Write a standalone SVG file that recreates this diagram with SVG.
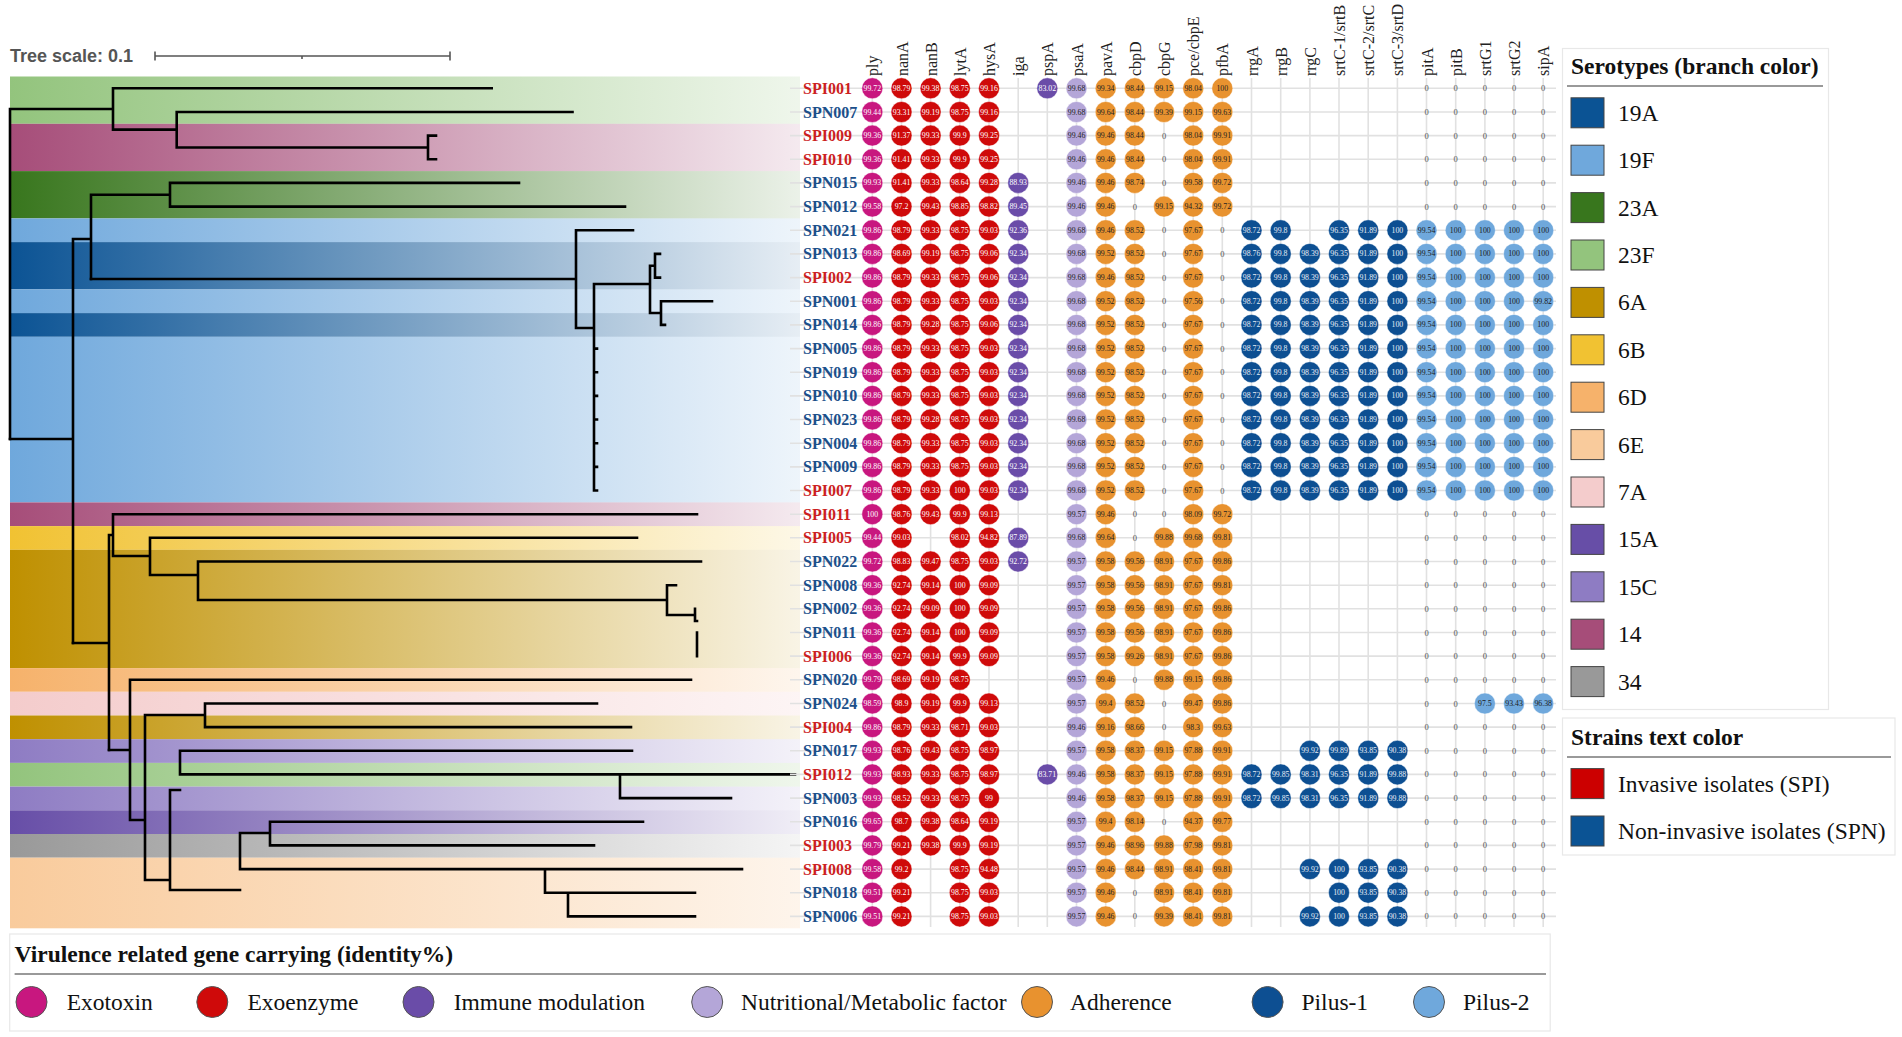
<svg xmlns="http://www.w3.org/2000/svg" width="1902" height="1037" viewBox="0 0 1902 1037">
<style>
.ttl{font-family:"Liberation Serif",serif;font-weight:bold;font-size:23.5px;fill:#111}
.lg{font-family:"Liberation Serif",serif;font-size:23.5px;fill:#111}
.hdr text{font-family:"Liberation Serif",serif;font-size:16px;fill:#222}
.lab text{font-family:"Liberation Serif",serif;font-weight:bold;font-size:16px}
.spi{fill:#cc1f1f}.spn{fill:#1b4f8a}
.grid line{stroke:#e1e1e1;stroke-width:1.6}
.cells text{font-family:"Liberation Serif",serif;font-size:7.8px;text-anchor:middle;dominant-baseline:central}
.cells circle{stroke:#ffffff;stroke-opacity:.55;stroke-width:.8}
.ex circle{fill:#c8177f}.ex text{fill:#fff}
.en circle{fill:#cf0a0a}.en text{fill:#fff}
.im circle{fill:#6a4ca8}.im text{fill:#fff}
.nu circle{fill:#b4a6d8}.nu text{fill:#222}
.ad circle{fill:#e8922f}.ad text{fill:#222}
.p1 circle{fill:#0d4f92}.p1 text{fill:#e6edf5}
.p2 circle{fill:#6fa8dc}.p2 text{fill:#1a1a1a}
.cells text.z{fill:#555;font-size:8.5px}
.tree path{fill:none;stroke:#000;stroke-width:2.6;stroke-linecap:square}
.sw{stroke:#444;stroke-width:1}
</style>
<defs>
<linearGradient id="g19A"><stop offset="0" stop-color="#0b5394"/><stop offset="1" stop-color="#0b5394" stop-opacity="0.1"/></linearGradient>
<linearGradient id="g19F"><stop offset="0" stop-color="#6fa8dc"/><stop offset="1" stop-color="#6fa8dc" stop-opacity="0.12"/></linearGradient>
<linearGradient id="g23A"><stop offset="0" stop-color="#38761d"/><stop offset="1" stop-color="#38761d" stop-opacity="0.1"/></linearGradient>
<linearGradient id="g23F"><stop offset="0" stop-color="#93c47d"/><stop offset="1" stop-color="#93c47d" stop-opacity="0.15"/></linearGradient>
<linearGradient id="g6A"><stop offset="0" stop-color="#bf9000"/><stop offset="1" stop-color="#bf9000" stop-opacity="0.1"/></linearGradient>
<linearGradient id="g6B"><stop offset="0" stop-color="#f1c232"/><stop offset="1" stop-color="#f1c232" stop-opacity="0.12"/></linearGradient>
<linearGradient id="g6D"><stop offset="0" stop-color="#f6b26b"/><stop offset="1" stop-color="#f6b26b" stop-opacity="0.12"/></linearGradient>
<linearGradient id="g6E"><stop offset="0" stop-color="#f9cb9c"/><stop offset="1" stop-color="#f9cb9c" stop-opacity="0.2"/></linearGradient>
<linearGradient id="g7A"><stop offset="0" stop-color="#f4cccc"/><stop offset="1" stop-color="#f4cccc" stop-opacity="0.2"/></linearGradient>
<linearGradient id="g15A"><stop offset="0" stop-color="#674ea7"/><stop offset="1" stop-color="#674ea7" stop-opacity="0.1"/></linearGradient>
<linearGradient id="g15C"><stop offset="0" stop-color="#8e7cc3"/><stop offset="1" stop-color="#8e7cc3" stop-opacity="0.1"/></linearGradient>
<linearGradient id="g14"><stop offset="0" stop-color="#a64d79"/><stop offset="1" stop-color="#a64d79" stop-opacity="0.12"/></linearGradient>
<linearGradient id="g34"><stop offset="0" stop-color="#999999"/><stop offset="1" stop-color="#999999" stop-opacity="0.1"/></linearGradient>
</defs>
<rect width="1902" height="1037" fill="#fff"/>

<g id="bands">
<rect x="10" y="76.5" width="790" height="47.3" fill="url(#g23F)"/>
<rect x="10" y="123.8" width="790" height="47.3" fill="url(#g14)"/>
<rect x="10" y="171.1" width="790" height="47.3" fill="url(#g23A)"/>
<rect x="10" y="218.4" width="790" height="23.7" fill="url(#g19F)"/>
<rect x="10" y="242.1" width="790" height="47.3" fill="url(#g19A)"/>
<rect x="10" y="289.4" width="790" height="23.7" fill="url(#g19F)"/>
<rect x="10" y="313.1" width="790" height="23.7" fill="url(#g19A)"/>
<rect x="10" y="336.8" width="790" height="165.6" fill="url(#g19F)"/>
<rect x="10" y="502.4" width="790" height="23.7" fill="url(#g14)"/>
<rect x="10" y="526.1" width="790" height="23.7" fill="url(#g6B)"/>
<rect x="10" y="549.8" width="790" height="118.3" fill="url(#g6A)"/>
<rect x="10" y="668.1" width="790" height="23.7" fill="url(#g6D)"/>
<rect x="10" y="691.8" width="790" height="23.7" fill="url(#g7A)"/>
<rect x="10" y="715.5" width="790" height="23.7" fill="url(#g6A)"/>
<rect x="10" y="739.2" width="790" height="23.7" fill="url(#g15C)"/>
<rect x="10" y="762.9" width="790" height="23.7" fill="url(#g23F)"/>
<rect x="10" y="786.6" width="790" height="23.7" fill="url(#g15C)"/>
<rect x="10" y="810.3" width="790" height="23.7" fill="url(#g15A)"/>
<rect x="10" y="834.0" width="790" height="23.7" fill="url(#g34)"/>
<rect x="10" y="857.7" width="790" height="70.6" fill="url(#g6E)"/>
</g>

<g id="scale">
<text x="10" y="62" font-family="Liberation Sans, sans-serif" font-weight="bold" font-size="18" fill="#555">Tree scale: 0.1</text>
<path d="M155,56H450M155,51.5V60.5M450,51.5V60.5M302,56V59" stroke="#555" stroke-width="1.6" fill="none"/>
</g>

<g id="connectors" class="tree">
<path d="M10,109V439M10,109H113M113,88.3V129.6M113,88.3H491.7M113,129.6H176.7M176.7,112V147.5M176.7,112H572.5M176.7,147.5H428M428,135.6V159.3M428,135.6H436M428,159.3H436"/>
<path d="M10,439H73M73,239V643M73,239H91M91,194.8V279M91,194.8H170M170,182.9V206.6M170,182.9H519M170,206.6H625"/>
<path d="M91,279H576M576,230.3V328M576,230.3H633M576,328H594M594,284V420M594,284H650M650,265.7V313M650,265.7H655M655,253.9V277.6M655,253.9H660M655,277.6H660M650,313H661M661,301.2V324.9M661,301.2H712M661,324.9H665M594,420H594M594,348.6V490.5M594,348.6H597M594,372.2H597M594,395.9H597M594,419.5H597M594,443.2H597M594,466.9H597M594,490.5H597"/>
<path d="M73,643H109M109,535V750M109,535H113M113,514.2V556M113,514.2H697M113,556H150M150,537.8V575M150,537.8H637M150,575H198M198,561.5V600M198,561.5H701M198,600H667M667,585.2V615M667,585.2H676M667,615H695M695,608.8V621M695,608.8H695M695,621H697M697,632.5V656.1M697,632.5H697M697,656.1H697"/>
<path d="M109,750H130M130,679.8V820M130,679.8H691M130,820H145M145,715V880M145,715H205M205,703.5V727.1M205,703.5H597M205,727.1H631M145,880H170M170,790V890M170,790H180M180,750.8V774.4M180,750.8H632M180,774.4H620M620,774.4V798.1M620,774.4H795M620,798.1H731M170,890H240M240,833V869.1M240,833H270M270,821.8V845.4M270,821.8H643M270,845.4H594M240,869.1H545M545,869.1V892.7M545,869.1H742M545,892.7H568M568,892.7V916.4M568,892.7H695M568,916.4H695"/>
</g>

<g id="grid" class="grid">
<line x1="790" y1="88.3" x2="1556" y2="88.3"/><line x1="790" y1="112" x2="1556" y2="112"/><line x1="790" y1="135.6" x2="1556" y2="135.6"/><line x1="790" y1="159.3" x2="1556" y2="159.3"/><line x1="790" y1="182.9" x2="1556" y2="182.9"/><line x1="790" y1="206.6" x2="1556" y2="206.6"/><line x1="790" y1="230.3" x2="1556" y2="230.3"/><line x1="790" y1="253.9" x2="1556" y2="253.9"/><line x1="790" y1="277.6" x2="1556" y2="277.6"/><line x1="790" y1="301.2" x2="1556" y2="301.2"/><line x1="790" y1="324.9" x2="1556" y2="324.9"/><line x1="790" y1="348.6" x2="1556" y2="348.6"/><line x1="790" y1="372.2" x2="1556" y2="372.2"/><line x1="790" y1="395.9" x2="1556" y2="395.9"/><line x1="790" y1="419.5" x2="1556" y2="419.5"/><line x1="790" y1="443.2" x2="1556" y2="443.2"/><line x1="790" y1="466.9" x2="1556" y2="466.9"/><line x1="790" y1="490.5" x2="1556" y2="490.5"/><line x1="790" y1="514.2" x2="1556" y2="514.2"/><line x1="790" y1="537.8" x2="1556" y2="537.8"/><line x1="790" y1="561.5" x2="1556" y2="561.5"/><line x1="790" y1="585.2" x2="1556" y2="585.2"/><line x1="790" y1="608.8" x2="1556" y2="608.8"/><line x1="790" y1="632.5" x2="1556" y2="632.5"/><line x1="790" y1="656.1" x2="1556" y2="656.1"/><line x1="790" y1="679.8" x2="1556" y2="679.8"/><line x1="790" y1="703.5" x2="1556" y2="703.5"/><line x1="790" y1="727.1" x2="1556" y2="727.1"/><line x1="790" y1="750.8" x2="1556" y2="750.8"/><line x1="790" y1="774.4" x2="1556" y2="774.4"/><line x1="790" y1="798.1" x2="1556" y2="798.1"/><line x1="790" y1="821.8" x2="1556" y2="821.8"/><line x1="790" y1="845.4" x2="1556" y2="845.4"/><line x1="790" y1="869.1" x2="1556" y2="869.1"/><line x1="790" y1="892.7" x2="1556" y2="892.7"/><line x1="790" y1="916.4" x2="1556" y2="916.4"/>
<line x1="872.3" y1="78" x2="872.3" y2="927"/><line x1="901.5" y1="78" x2="901.5" y2="927"/><line x1="930.6" y1="78" x2="930.6" y2="927"/><line x1="959.8" y1="78" x2="959.8" y2="927"/><line x1="989" y1="78" x2="989" y2="927"/><line x1="1018.2" y1="78" x2="1018.2" y2="927"/><line x1="1047.3" y1="78" x2="1047.3" y2="927"/><line x1="1076.5" y1="78" x2="1076.5" y2="927"/><line x1="1105.7" y1="78" x2="1105.7" y2="927"/><line x1="1134.8" y1="78" x2="1134.8" y2="927"/><line x1="1164" y1="78" x2="1164" y2="927"/><line x1="1193.2" y1="78" x2="1193.2" y2="927"/><line x1="1222.3" y1="78" x2="1222.3" y2="927"/><line x1="1251.5" y1="78" x2="1251.5" y2="927"/><line x1="1280.7" y1="78" x2="1280.7" y2="927"/><line x1="1309.9" y1="78" x2="1309.9" y2="927"/><line x1="1339" y1="78" x2="1339" y2="927"/><line x1="1368.2" y1="78" x2="1368.2" y2="927"/><line x1="1397.4" y1="78" x2="1397.4" y2="927"/><line x1="1426.5" y1="78" x2="1426.5" y2="927"/><line x1="1455.7" y1="78" x2="1455.7" y2="927"/><line x1="1484.9" y1="78" x2="1484.9" y2="927"/><line x1="1514" y1="78" x2="1514" y2="927"/><line x1="1543.2" y1="78" x2="1543.2" y2="927"/>
</g>

<g id="headers" class="hdr">
<text transform="translate(878.3,76) rotate(-90)">ply</text>
<text transform="translate(907.5,76) rotate(-90)">nanA</text>
<text transform="translate(936.6,76) rotate(-90)">nanB</text>
<text transform="translate(965.8,76) rotate(-90)">lytA</text>
<text transform="translate(995,76) rotate(-90)">hysA</text>
<text transform="translate(1024.2,76) rotate(-90)">iga</text>
<text transform="translate(1053.3,76) rotate(-90)">pspA</text>
<text transform="translate(1082.5,76) rotate(-90)">psaA</text>
<text transform="translate(1111.7,76) rotate(-90)">pavA</text>
<text transform="translate(1140.8,76) rotate(-90)">cbpD</text>
<text transform="translate(1170,76) rotate(-90)">cbpG</text>
<text transform="translate(1199.2,76) rotate(-90)">pce/cbpE</text>
<text transform="translate(1228.3,76) rotate(-90)">pfbA</text>
<text transform="translate(1257.5,76) rotate(-90)">rrgA</text>
<text transform="translate(1286.7,76) rotate(-90)">rrgB</text>
<text transform="translate(1315.9,76) rotate(-90)">rrgC</text>
<text transform="translate(1345,76) rotate(-90)">srtC-1/srtB</text>
<text transform="translate(1374.2,76) rotate(-90)">srtC-2/srtC</text>
<text transform="translate(1403.4,76) rotate(-90)">srtC-3/srtD</text>
<text transform="translate(1432.5,76) rotate(-90)">pitA</text>
<text transform="translate(1461.7,76) rotate(-90)">pitB</text>
<text transform="translate(1490.9,76) rotate(-90)">srtG1</text>
<text transform="translate(1520,76) rotate(-90)">srtG2</text>
<text transform="translate(1549.2,76) rotate(-90)">sipA</text>
</g>

<g id="strains" class="lab">
<text x="803" y="93.8" class="spi">SPI001</text>
<text x="803" y="117.5" class="spn">SPN007</text>
<text x="803" y="141.1" class="spi">SPI009</text>
<text x="803" y="164.8" class="spi">SPI010</text>
<text x="803" y="188.4" class="spn">SPN015</text>
<text x="803" y="212.1" class="spn">SPN012</text>
<text x="803" y="235.8" class="spn">SPN021</text>
<text x="803" y="259.4" class="spn">SPN013</text>
<text x="803" y="283.1" class="spi">SPI002</text>
<text x="803" y="306.7" class="spn">SPN001</text>
<text x="803" y="330.4" class="spn">SPN014</text>
<text x="803" y="354.1" class="spn">SPN005</text>
<text x="803" y="377.7" class="spn">SPN019</text>
<text x="803" y="401.4" class="spn">SPN010</text>
<text x="803" y="425" class="spn">SPN023</text>
<text x="803" y="448.7" class="spn">SPN004</text>
<text x="803" y="472.4" class="spn">SPN009</text>
<text x="803" y="496" class="spi">SPI007</text>
<text x="803" y="519.7" class="spi">SPI011</text>
<text x="803" y="543.3" class="spi">SPI005</text>
<text x="803" y="567" class="spn">SPN022</text>
<text x="803" y="590.7" class="spn">SPN008</text>
<text x="803" y="614.3" class="spn">SPN002</text>
<text x="803" y="638" class="spn">SPN011</text>
<text x="803" y="661.6" class="spi">SPI006</text>
<text x="803" y="685.3" class="spn">SPN020</text>
<text x="803" y="709" class="spn">SPN024</text>
<text x="803" y="732.6" class="spi">SPI004</text>
<text x="803" y="756.3" class="spn">SPN017</text>
<text x="803" y="779.9" class="spi">SPI012</text>
<text x="803" y="803.6" class="spn">SPN003</text>
<text x="803" y="827.3" class="spn">SPN016</text>
<text x="803" y="850.9" class="spi">SPI003</text>
<text x="803" y="874.6" class="spi">SPI008</text>
<text x="803" y="898.2" class="spn">SPN018</text>
<text x="803" y="921.9" class="spn">SPN006</text>
</g>

<g id="cells" class="cells">
<g class="ex" transform="translate(872.3,0)">
<circle cy="88.3" r="10.5"/><text y="88.3">99.72</text><circle cy="112" r="10.5"/><text y="112">99.44</text><circle cy="135.6" r="10.5"/><text y="135.6">99.36</text><circle cy="159.3" r="10.5"/><text y="159.3">99.36</text><circle cy="182.9" r="10.5"/><text y="182.9">99.93</text><circle cy="206.6" r="10.5"/><text y="206.6">99.58</text><circle cy="230.3" r="10.5"/><text y="230.3">99.86</text><circle cy="253.9" r="10.5"/><text y="253.9">99.86</text><circle cy="277.6" r="10.5"/><text y="277.6">99.86</text><circle cy="301.2" r="10.5"/><text y="301.2">99.86</text><circle cy="324.9" r="10.5"/><text y="324.9">99.86</text><circle cy="348.6" r="10.5"/><text y="348.6">99.86</text><circle cy="372.2" r="10.5"/><text y="372.2">99.86</text><circle cy="395.9" r="10.5"/><text y="395.9">99.86</text><circle cy="419.5" r="10.5"/><text y="419.5">99.86</text><circle cy="443.2" r="10.5"/><text y="443.2">99.86</text><circle cy="466.9" r="10.5"/><text y="466.9">99.86</text><circle cy="490.5" r="10.5"/><text y="490.5">99.86</text><circle cy="514.2" r="10.5"/><text y="514.2">100</text><circle cy="537.8" r="10.5"/><text y="537.8">99.44</text><circle cy="561.5" r="10.5"/><text y="561.5">99.72</text><circle cy="585.2" r="10.5"/><text y="585.2">99.36</text><circle cy="608.8" r="10.5"/><text y="608.8">99.36</text><circle cy="632.5" r="10.5"/><text y="632.5">99.36</text><circle cy="656.1" r="10.5"/><text y="656.1">99.36</text><circle cy="679.8" r="10.5"/><text y="679.8">99.79</text><circle cy="703.5" r="10.5"/><text y="703.5">98.59</text><circle cy="727.1" r="10.5"/><text y="727.1">99.86</text><circle cy="750.8" r="10.5"/><text y="750.8">99.93</text><circle cy="774.4" r="10.5"/><text y="774.4">99.93</text><circle cy="798.1" r="10.5"/><text y="798.1">99.93</text><circle cy="821.8" r="10.5"/><text y="821.8">99.65</text><circle cy="845.4" r="10.5"/><text y="845.4">99.79</text><circle cy="869.1" r="10.5"/><text y="869.1">99.58</text><circle cy="892.7" r="10.5"/><text y="892.7">99.51</text><circle cy="916.4" r="10.5"/><text y="916.4">99.51</text>
</g>
<g class="en" transform="translate(901.5,0)">
<circle cy="88.3" r="10.5"/><text y="88.3">98.79</text><circle cy="112" r="10.5"/><text y="112">93.31</text><circle cy="135.6" r="10.5"/><text y="135.6">91.37</text><circle cy="159.3" r="10.5"/><text y="159.3">91.41</text><circle cy="182.9" r="10.5"/><text y="182.9">91.41</text><circle cy="206.6" r="10.5"/><text y="206.6">97.2</text><circle cy="230.3" r="10.5"/><text y="230.3">98.79</text><circle cy="253.9" r="10.5"/><text y="253.9">98.69</text><circle cy="277.6" r="10.5"/><text y="277.6">98.79</text><circle cy="301.2" r="10.5"/><text y="301.2">98.79</text><circle cy="324.9" r="10.5"/><text y="324.9">98.79</text><circle cy="348.6" r="10.5"/><text y="348.6">98.79</text><circle cy="372.2" r="10.5"/><text y="372.2">98.79</text><circle cy="395.9" r="10.5"/><text y="395.9">98.79</text><circle cy="419.5" r="10.5"/><text y="419.5">98.79</text><circle cy="443.2" r="10.5"/><text y="443.2">98.79</text><circle cy="466.9" r="10.5"/><text y="466.9">98.79</text><circle cy="490.5" r="10.5"/><text y="490.5">98.79</text><circle cy="514.2" r="10.5"/><text y="514.2">98.76</text><circle cy="537.8" r="10.5"/><text y="537.8">99.03</text><circle cy="561.5" r="10.5"/><text y="561.5">98.83</text><circle cy="585.2" r="10.5"/><text y="585.2">92.74</text><circle cy="608.8" r="10.5"/><text y="608.8">92.74</text><circle cy="632.5" r="10.5"/><text y="632.5">92.74</text><circle cy="656.1" r="10.5"/><text y="656.1">92.74</text><circle cy="679.8" r="10.5"/><text y="679.8">98.69</text><circle cy="703.5" r="10.5"/><text y="703.5">98.9</text><circle cy="727.1" r="10.5"/><text y="727.1">98.79</text><circle cy="750.8" r="10.5"/><text y="750.8">98.76</text><circle cy="774.4" r="10.5"/><text y="774.4">98.93</text><circle cy="798.1" r="10.5"/><text y="798.1">98.52</text><circle cy="821.8" r="10.5"/><text y="821.8">98.7</text><circle cy="845.4" r="10.5"/><text y="845.4">99.21</text><circle cy="869.1" r="10.5"/><text y="869.1">99.2</text><circle cy="892.7" r="10.5"/><text y="892.7">99.21</text><circle cy="916.4" r="10.5"/><text y="916.4">99.21</text>
</g>
<g class="en" transform="translate(930.6,0)">
<circle cy="88.3" r="10.5"/><text y="88.3">99.38</text><circle cy="112" r="10.5"/><text y="112">99.19</text><circle cy="135.6" r="10.5"/><text y="135.6">99.33</text><circle cy="159.3" r="10.5"/><text y="159.3">99.33</text><circle cy="182.9" r="10.5"/><text y="182.9">99.33</text><circle cy="206.6" r="10.5"/><text y="206.6">99.43</text><circle cy="230.3" r="10.5"/><text y="230.3">99.33</text><circle cy="253.9" r="10.5"/><text y="253.9">99.19</text><circle cy="277.6" r="10.5"/><text y="277.6">99.33</text><circle cy="301.2" r="10.5"/><text y="301.2">99.33</text><circle cy="324.9" r="10.5"/><text y="324.9">99.28</text><circle cy="348.6" r="10.5"/><text y="348.6">99.33</text><circle cy="372.2" r="10.5"/><text y="372.2">99.33</text><circle cy="395.9" r="10.5"/><text y="395.9">99.33</text><circle cy="419.5" r="10.5"/><text y="419.5">99.28</text><circle cy="443.2" r="10.5"/><text y="443.2">99.33</text><circle cy="466.9" r="10.5"/><text y="466.9">99.33</text><circle cy="490.5" r="10.5"/><text y="490.5">99.33</text><circle cy="514.2" r="10.5"/><text y="514.2">99.43</text><circle cy="561.5" r="10.5"/><text y="561.5">99.47</text><circle cy="585.2" r="10.5"/><text y="585.2">99.14</text><circle cy="608.8" r="10.5"/><text y="608.8">99.09</text><circle cy="632.5" r="10.5"/><text y="632.5">99.14</text><circle cy="656.1" r="10.5"/><text y="656.1">99.14</text><circle cy="679.8" r="10.5"/><text y="679.8">99.19</text><circle cy="703.5" r="10.5"/><text y="703.5">99.19</text><circle cy="727.1" r="10.5"/><text y="727.1">99.33</text><circle cy="750.8" r="10.5"/><text y="750.8">99.43</text><circle cy="774.4" r="10.5"/><text y="774.4">99.33</text><circle cy="798.1" r="10.5"/><text y="798.1">99.33</text><circle cy="821.8" r="10.5"/><text y="821.8">99.38</text><circle cy="845.4" r="10.5"/><text y="845.4">99.38</text>
</g>
<g class="en" transform="translate(959.8,0)">
<circle cy="88.3" r="10.5"/><text y="88.3">98.75</text><circle cy="112" r="10.5"/><text y="112">98.75</text><circle cy="135.6" r="10.5"/><text y="135.6">99.9</text><circle cy="159.3" r="10.5"/><text y="159.3">99.9</text><circle cy="182.9" r="10.5"/><text y="182.9">98.64</text><circle cy="206.6" r="10.5"/><text y="206.6">98.85</text><circle cy="230.3" r="10.5"/><text y="230.3">98.75</text><circle cy="253.9" r="10.5"/><text y="253.9">98.75</text><circle cy="277.6" r="10.5"/><text y="277.6">98.75</text><circle cy="301.2" r="10.5"/><text y="301.2">98.75</text><circle cy="324.9" r="10.5"/><text y="324.9">98.75</text><circle cy="348.6" r="10.5"/><text y="348.6">98.75</text><circle cy="372.2" r="10.5"/><text y="372.2">98.75</text><circle cy="395.9" r="10.5"/><text y="395.9">98.75</text><circle cy="419.5" r="10.5"/><text y="419.5">98.75</text><circle cy="443.2" r="10.5"/><text y="443.2">98.75</text><circle cy="466.9" r="10.5"/><text y="466.9">98.75</text><circle cy="490.5" r="10.5"/><text y="490.5">100</text><circle cy="514.2" r="10.5"/><text y="514.2">99.9</text><circle cy="537.8" r="10.5"/><text y="537.8">98.02</text><circle cy="561.5" r="10.5"/><text y="561.5">98.75</text><circle cy="585.2" r="10.5"/><text y="585.2">100</text><circle cy="608.8" r="10.5"/><text y="608.8">100</text><circle cy="632.5" r="10.5"/><text y="632.5">100</text><circle cy="656.1" r="10.5"/><text y="656.1">99.9</text><circle cy="679.8" r="10.5"/><text y="679.8">98.75</text><circle cy="703.5" r="10.5"/><text y="703.5">99.9</text><circle cy="727.1" r="10.5"/><text y="727.1">98.71</text><circle cy="750.8" r="10.5"/><text y="750.8">98.75</text><circle cy="774.4" r="10.5"/><text y="774.4">98.75</text><circle cy="798.1" r="10.5"/><text y="798.1">98.75</text><circle cy="821.8" r="10.5"/><text y="821.8">98.64</text><circle cy="845.4" r="10.5"/><text y="845.4">99.9</text><circle cy="869.1" r="10.5"/><text y="869.1">98.75</text><circle cy="892.7" r="10.5"/><text y="892.7">98.75</text><circle cy="916.4" r="10.5"/><text y="916.4">98.75</text>
</g>
<g class="en" transform="translate(989,0)">
<circle cy="88.3" r="10.5"/><text y="88.3">99.16</text><circle cy="112" r="10.5"/><text y="112">99.16</text><circle cy="135.6" r="10.5"/><text y="135.6">99.25</text><circle cy="159.3" r="10.5"/><text y="159.3">99.25</text><circle cy="182.9" r="10.5"/><text y="182.9">99.28</text><circle cy="206.6" r="10.5"/><text y="206.6">98.82</text><circle cy="230.3" r="10.5"/><text y="230.3">99.03</text><circle cy="253.9" r="10.5"/><text y="253.9">99.06</text><circle cy="277.6" r="10.5"/><text y="277.6">99.06</text><circle cy="301.2" r="10.5"/><text y="301.2">99.03</text><circle cy="324.9" r="10.5"/><text y="324.9">99.06</text><circle cy="348.6" r="10.5"/><text y="348.6">99.03</text><circle cy="372.2" r="10.5"/><text y="372.2">99.03</text><circle cy="395.9" r="10.5"/><text y="395.9">99.03</text><circle cy="419.5" r="10.5"/><text y="419.5">99.03</text><circle cy="443.2" r="10.5"/><text y="443.2">99.03</text><circle cy="466.9" r="10.5"/><text y="466.9">99.03</text><circle cy="490.5" r="10.5"/><text y="490.5">99.03</text><circle cy="514.2" r="10.5"/><text y="514.2">99.13</text><circle cy="537.8" r="10.5"/><text y="537.8">94.82</text><circle cy="561.5" r="10.5"/><text y="561.5">99.03</text><circle cy="585.2" r="10.5"/><text y="585.2">99.09</text><circle cy="608.8" r="10.5"/><text y="608.8">99.09</text><circle cy="632.5" r="10.5"/><text y="632.5">99.09</text><circle cy="656.1" r="10.5"/><text y="656.1">99.09</text><circle cy="703.5" r="10.5"/><text y="703.5">99.13</text><circle cy="727.1" r="10.5"/><text y="727.1">99.03</text><circle cy="750.8" r="10.5"/><text y="750.8">98.97</text><circle cy="774.4" r="10.5"/><text y="774.4">98.97</text><circle cy="798.1" r="10.5"/><text y="798.1">99</text><circle cy="821.8" r="10.5"/><text y="821.8">99.19</text><circle cy="845.4" r="10.5"/><text y="845.4">99.19</text><circle cy="869.1" r="10.5"/><text y="869.1">94.48</text><circle cy="892.7" r="10.5"/><text y="892.7">99.03</text><circle cy="916.4" r="10.5"/><text y="916.4">99.03</text>
</g>
<g class="im" transform="translate(1018.2,0)">
<circle cy="182.9" r="10.5"/><text y="182.9">88.93</text><circle cy="206.6" r="10.5"/><text y="206.6">89.45</text><circle cy="230.3" r="10.5"/><text y="230.3">92.36</text><circle cy="253.9" r="10.5"/><text y="253.9">92.34</text><circle cy="277.6" r="10.5"/><text y="277.6">92.34</text><circle cy="301.2" r="10.5"/><text y="301.2">92.34</text><circle cy="324.9" r="10.5"/><text y="324.9">92.34</text><circle cy="348.6" r="10.5"/><text y="348.6">92.34</text><circle cy="372.2" r="10.5"/><text y="372.2">92.34</text><circle cy="395.9" r="10.5"/><text y="395.9">92.34</text><circle cy="419.5" r="10.5"/><text y="419.5">92.34</text><circle cy="443.2" r="10.5"/><text y="443.2">92.34</text><circle cy="466.9" r="10.5"/><text y="466.9">92.34</text><circle cy="490.5" r="10.5"/><text y="490.5">92.34</text><circle cy="537.8" r="10.5"/><text y="537.8">87.89</text><circle cy="561.5" r="10.5"/><text y="561.5">92.72</text>
</g>
<g class="im" transform="translate(1047.3,0)">
<circle cy="88.3" r="10.5"/><text y="88.3">83.02</text><circle cy="774.4" r="10.5"/><text y="774.4">83.71</text>
</g>
<g class="nu" transform="translate(1076.5,0)">
<circle cy="88.3" r="10.5"/><text y="88.3">99.68</text><circle cy="112" r="10.5"/><text y="112">99.68</text><circle cy="135.6" r="10.5"/><text y="135.6">99.46</text><circle cy="159.3" r="10.5"/><text y="159.3">99.46</text><circle cy="182.9" r="10.5"/><text y="182.9">99.46</text><circle cy="206.6" r="10.5"/><text y="206.6">99.46</text><circle cy="230.3" r="10.5"/><text y="230.3">99.68</text><circle cy="253.9" r="10.5"/><text y="253.9">99.68</text><circle cy="277.6" r="10.5"/><text y="277.6">99.68</text><circle cy="301.2" r="10.5"/><text y="301.2">99.68</text><circle cy="324.9" r="10.5"/><text y="324.9">99.68</text><circle cy="348.6" r="10.5"/><text y="348.6">99.68</text><circle cy="372.2" r="10.5"/><text y="372.2">99.68</text><circle cy="395.9" r="10.5"/><text y="395.9">99.68</text><circle cy="419.5" r="10.5"/><text y="419.5">99.68</text><circle cy="443.2" r="10.5"/><text y="443.2">99.68</text><circle cy="466.9" r="10.5"/><text y="466.9">99.68</text><circle cy="490.5" r="10.5"/><text y="490.5">99.68</text><circle cy="514.2" r="10.5"/><text y="514.2">99.57</text><circle cy="537.8" r="10.5"/><text y="537.8">99.68</text><circle cy="561.5" r="10.5"/><text y="561.5">99.57</text><circle cy="585.2" r="10.5"/><text y="585.2">99.57</text><circle cy="608.8" r="10.5"/><text y="608.8">99.57</text><circle cy="632.5" r="10.5"/><text y="632.5">99.57</text><circle cy="656.1" r="10.5"/><text y="656.1">99.57</text><circle cy="679.8" r="10.5"/><text y="679.8">99.57</text><circle cy="703.5" r="10.5"/><text y="703.5">99.57</text><circle cy="727.1" r="10.5"/><text y="727.1">99.46</text><circle cy="750.8" r="10.5"/><text y="750.8">99.57</text><circle cy="774.4" r="10.5"/><text y="774.4">99.46</text><circle cy="798.1" r="10.5"/><text y="798.1">99.46</text><circle cy="821.8" r="10.5"/><text y="821.8">99.57</text><circle cy="845.4" r="10.5"/><text y="845.4">99.57</text><circle cy="869.1" r="10.5"/><text y="869.1">99.57</text><circle cy="892.7" r="10.5"/><text y="892.7">99.57</text><circle cy="916.4" r="10.5"/><text y="916.4">99.57</text>
</g>
<g class="ad" transform="translate(1105.7,0)">
<circle cy="88.3" r="10.5"/><text y="88.3">99.34</text><circle cy="112" r="10.5"/><text y="112">99.64</text><circle cy="135.6" r="10.5"/><text y="135.6">99.46</text><circle cy="159.3" r="10.5"/><text y="159.3">99.46</text><circle cy="182.9" r="10.5"/><text y="182.9">99.46</text><circle cy="206.6" r="10.5"/><text y="206.6">99.46</text><circle cy="230.3" r="10.5"/><text y="230.3">99.46</text><circle cy="253.9" r="10.5"/><text y="253.9">99.52</text><circle cy="277.6" r="10.5"/><text y="277.6">99.46</text><circle cy="301.2" r="10.5"/><text y="301.2">99.52</text><circle cy="324.9" r="10.5"/><text y="324.9">99.52</text><circle cy="348.6" r="10.5"/><text y="348.6">99.52</text><circle cy="372.2" r="10.5"/><text y="372.2">99.52</text><circle cy="395.9" r="10.5"/><text y="395.9">99.52</text><circle cy="419.5" r="10.5"/><text y="419.5">99.52</text><circle cy="443.2" r="10.5"/><text y="443.2">99.52</text><circle cy="466.9" r="10.5"/><text y="466.9">99.52</text><circle cy="490.5" r="10.5"/><text y="490.5">99.52</text><circle cy="514.2" r="10.5"/><text y="514.2">99.46</text><circle cy="537.8" r="10.5"/><text y="537.8">99.64</text><circle cy="561.5" r="10.5"/><text y="561.5">99.58</text><circle cy="585.2" r="10.5"/><text y="585.2">99.58</text><circle cy="608.8" r="10.5"/><text y="608.8">99.58</text><circle cy="632.5" r="10.5"/><text y="632.5">99.58</text><circle cy="656.1" r="10.5"/><text y="656.1">99.58</text><circle cy="679.8" r="10.5"/><text y="679.8">99.46</text><circle cy="703.5" r="10.5"/><text y="703.5">99.4</text><circle cy="727.1" r="10.5"/><text y="727.1">99.16</text><circle cy="750.8" r="10.5"/><text y="750.8">99.58</text><circle cy="774.4" r="10.5"/><text y="774.4">99.58</text><circle cy="798.1" r="10.5"/><text y="798.1">99.58</text><circle cy="821.8" r="10.5"/><text y="821.8">99.4</text><circle cy="845.4" r="10.5"/><text y="845.4">99.46</text><circle cy="869.1" r="10.5"/><text y="869.1">99.46</text><circle cy="892.7" r="10.5"/><text y="892.7">99.46</text><circle cy="916.4" r="10.5"/><text y="916.4">99.46</text>
</g>
<g class="ad" transform="translate(1134.8,0)">
<circle cy="88.3" r="10.5"/><text y="88.3">98.44</text><circle cy="112" r="10.5"/><text y="112">98.44</text><circle cy="135.6" r="10.5"/><text y="135.6">98.44</text><circle cy="159.3" r="10.5"/><text y="159.3">98.44</text><circle cy="182.9" r="10.5"/><text y="182.9">98.74</text><text class="z" y="206.6">0</text><circle cy="230.3" r="10.5"/><text y="230.3">98.52</text><circle cy="253.9" r="10.5"/><text y="253.9">98.52</text><circle cy="277.6" r="10.5"/><text y="277.6">98.52</text><circle cy="301.2" r="10.5"/><text y="301.2">98.52</text><circle cy="324.9" r="10.5"/><text y="324.9">98.52</text><circle cy="348.6" r="10.5"/><text y="348.6">98.52</text><circle cy="372.2" r="10.5"/><text y="372.2">98.52</text><circle cy="395.9" r="10.5"/><text y="395.9">98.52</text><circle cy="419.5" r="10.5"/><text y="419.5">98.52</text><circle cy="443.2" r="10.5"/><text y="443.2">98.52</text><circle cy="466.9" r="10.5"/><text y="466.9">98.52</text><circle cy="490.5" r="10.5"/><text y="490.5">98.52</text><text class="z" y="514.2">0</text><text class="z" y="537.8">0</text><circle cy="561.5" r="10.5"/><text y="561.5">99.56</text><circle cy="585.2" r="10.5"/><text y="585.2">99.56</text><circle cy="608.8" r="10.5"/><text y="608.8">99.56</text><circle cy="632.5" r="10.5"/><text y="632.5">99.56</text><circle cy="656.1" r="10.5"/><text y="656.1">99.26</text><text class="z" y="679.8">0</text><circle cy="703.5" r="10.5"/><text y="703.5">98.52</text><circle cy="727.1" r="10.5"/><text y="727.1">98.66</text><circle cy="750.8" r="10.5"/><text y="750.8">98.37</text><circle cy="774.4" r="10.5"/><text y="774.4">98.37</text><circle cy="798.1" r="10.5"/><text y="798.1">98.37</text><circle cy="821.8" r="10.5"/><text y="821.8">98.14</text><circle cy="845.4" r="10.5"/><text y="845.4">98.96</text><circle cy="869.1" r="10.5"/><text y="869.1">98.44</text><text class="z" y="892.7">0</text><text class="z" y="916.4">0</text>
</g>
<g class="ad" transform="translate(1164,0)">
<circle cy="88.3" r="10.5"/><text y="88.3">99.15</text><circle cy="112" r="10.5"/><text y="112">99.39</text><text class="z" y="135.6">0</text><text class="z" y="159.3">0</text><text class="z" y="182.9">0</text><circle cy="206.6" r="10.5"/><text y="206.6">99.15</text><text class="z" y="230.3">0</text><text class="z" y="253.9">0</text><text class="z" y="277.6">0</text><text class="z" y="301.2">0</text><text class="z" y="324.9">0</text><text class="z" y="348.6">0</text><text class="z" y="372.2">0</text><text class="z" y="395.9">0</text><text class="z" y="419.5">0</text><text class="z" y="443.2">0</text><text class="z" y="466.9">0</text><text class="z" y="490.5">0</text><text class="z" y="514.2">0</text><circle cy="537.8" r="10.5"/><text y="537.8">99.88</text><circle cy="561.5" r="10.5"/><text y="561.5">98.91</text><circle cy="585.2" r="10.5"/><text y="585.2">98.91</text><circle cy="608.8" r="10.5"/><text y="608.8">98.91</text><circle cy="632.5" r="10.5"/><text y="632.5">98.91</text><circle cy="656.1" r="10.5"/><text y="656.1">98.91</text><circle cy="679.8" r="10.5"/><text y="679.8">99.88</text><text class="z" y="703.5">0</text><text class="z" y="727.1">0</text><circle cy="750.8" r="10.5"/><text y="750.8">99.15</text><circle cy="774.4" r="10.5"/><text y="774.4">99.15</text><circle cy="798.1" r="10.5"/><text y="798.1">99.15</text><text class="z" y="821.8">0</text><circle cy="845.4" r="10.5"/><text y="845.4">99.88</text><circle cy="869.1" r="10.5"/><text y="869.1">98.91</text><circle cy="892.7" r="10.5"/><text y="892.7">98.91</text><circle cy="916.4" r="10.5"/><text y="916.4">99.39</text>
</g>
<g class="ad" transform="translate(1193.2,0)">
<circle cy="88.3" r="10.5"/><text y="88.3">98.04</text><circle cy="112" r="10.5"/><text y="112">99.15</text><circle cy="135.6" r="10.5"/><text y="135.6">98.04</text><circle cy="159.3" r="10.5"/><text y="159.3">98.04</text><circle cy="182.9" r="10.5"/><text y="182.9">99.58</text><circle cy="206.6" r="10.5"/><text y="206.6">94.32</text><circle cy="230.3" r="10.5"/><text y="230.3">97.67</text><circle cy="253.9" r="10.5"/><text y="253.9">97.67</text><circle cy="277.6" r="10.5"/><text y="277.6">97.67</text><circle cy="301.2" r="10.5"/><text y="301.2">97.56</text><circle cy="324.9" r="10.5"/><text y="324.9">97.67</text><circle cy="348.6" r="10.5"/><text y="348.6">97.67</text><circle cy="372.2" r="10.5"/><text y="372.2">97.67</text><circle cy="395.9" r="10.5"/><text y="395.9">97.67</text><circle cy="419.5" r="10.5"/><text y="419.5">97.67</text><circle cy="443.2" r="10.5"/><text y="443.2">97.67</text><circle cy="466.9" r="10.5"/><text y="466.9">97.67</text><circle cy="490.5" r="10.5"/><text y="490.5">97.67</text><circle cy="514.2" r="10.5"/><text y="514.2">98.09</text><circle cy="537.8" r="10.5"/><text y="537.8">99.68</text><circle cy="561.5" r="10.5"/><text y="561.5">97.67</text><circle cy="585.2" r="10.5"/><text y="585.2">97.67</text><circle cy="608.8" r="10.5"/><text y="608.8">97.67</text><circle cy="632.5" r="10.5"/><text y="632.5">97.67</text><circle cy="656.1" r="10.5"/><text y="656.1">97.67</text><circle cy="679.8" r="10.5"/><text y="679.8">99.15</text><circle cy="703.5" r="10.5"/><text y="703.5">99.47</text><circle cy="727.1" r="10.5"/><text y="727.1">98.3</text><circle cy="750.8" r="10.5"/><text y="750.8">97.88</text><circle cy="774.4" r="10.5"/><text y="774.4">97.88</text><circle cy="798.1" r="10.5"/><text y="798.1">97.88</text><circle cy="821.8" r="10.5"/><text y="821.8">94.37</text><circle cy="845.4" r="10.5"/><text y="845.4">97.98</text><circle cy="869.1" r="10.5"/><text y="869.1">98.41</text><circle cy="892.7" r="10.5"/><text y="892.7">98.41</text><circle cy="916.4" r="10.5"/><text y="916.4">98.41</text>
</g>
<g class="ad" transform="translate(1222.3,0)">
<circle cy="88.3" r="10.5"/><text y="88.3">100</text><circle cy="112" r="10.5"/><text y="112">99.63</text><circle cy="135.6" r="10.5"/><text y="135.6">99.91</text><circle cy="159.3" r="10.5"/><text y="159.3">99.91</text><circle cy="182.9" r="10.5"/><text y="182.9">99.72</text><circle cy="206.6" r="10.5"/><text y="206.6">99.72</text><text class="z" y="230.3">0</text><text class="z" y="253.9">0</text><text class="z" y="277.6">0</text><text class="z" y="301.2">0</text><text class="z" y="324.9">0</text><text class="z" y="348.6">0</text><text class="z" y="372.2">0</text><text class="z" y="395.9">0</text><text class="z" y="419.5">0</text><text class="z" y="443.2">0</text><text class="z" y="466.9">0</text><text class="z" y="490.5">0</text><circle cy="514.2" r="10.5"/><text y="514.2">99.72</text><circle cy="537.8" r="10.5"/><text y="537.8">99.81</text><circle cy="561.5" r="10.5"/><text y="561.5">99.86</text><circle cy="585.2" r="10.5"/><text y="585.2">99.81</text><circle cy="608.8" r="10.5"/><text y="608.8">99.86</text><circle cy="632.5" r="10.5"/><text y="632.5">99.86</text><circle cy="656.1" r="10.5"/><text y="656.1">99.86</text><circle cy="679.8" r="10.5"/><text y="679.8">99.86</text><circle cy="703.5" r="10.5"/><text y="703.5">99.86</text><circle cy="727.1" r="10.5"/><text y="727.1">99.63</text><circle cy="750.8" r="10.5"/><text y="750.8">99.91</text><circle cy="774.4" r="10.5"/><text y="774.4">99.91</text><circle cy="798.1" r="10.5"/><text y="798.1">99.91</text><circle cy="821.8" r="10.5"/><text y="821.8">99.77</text><circle cy="845.4" r="10.5"/><text y="845.4">99.81</text><circle cy="869.1" r="10.5"/><text y="869.1">99.81</text><circle cy="892.7" r="10.5"/><text y="892.7">99.81</text><circle cy="916.4" r="10.5"/><text y="916.4">99.81</text>
</g>
<g class="p1" transform="translate(1251.5,0)">
<circle cy="230.3" r="10.5"/><text y="230.3">98.72</text><circle cy="253.9" r="10.5"/><text y="253.9">98.76</text><circle cy="277.6" r="10.5"/><text y="277.6">98.72</text><circle cy="301.2" r="10.5"/><text y="301.2">98.72</text><circle cy="324.9" r="10.5"/><text y="324.9">98.72</text><circle cy="348.6" r="10.5"/><text y="348.6">98.72</text><circle cy="372.2" r="10.5"/><text y="372.2">98.72</text><circle cy="395.9" r="10.5"/><text y="395.9">98.72</text><circle cy="419.5" r="10.5"/><text y="419.5">98.72</text><circle cy="443.2" r="10.5"/><text y="443.2">98.72</text><circle cy="466.9" r="10.5"/><text y="466.9">98.72</text><circle cy="490.5" r="10.5"/><text y="490.5">98.72</text><circle cy="774.4" r="10.5"/><text y="774.4">98.72</text><circle cy="798.1" r="10.5"/><text y="798.1">98.72</text>
</g>
<g class="p1" transform="translate(1280.7,0)">
<circle cy="230.3" r="10.5"/><text y="230.3">99.8</text><circle cy="253.9" r="10.5"/><text y="253.9">99.8</text><circle cy="277.6" r="10.5"/><text y="277.6">99.8</text><circle cy="301.2" r="10.5"/><text y="301.2">99.8</text><circle cy="324.9" r="10.5"/><text y="324.9">99.8</text><circle cy="348.6" r="10.5"/><text y="348.6">99.8</text><circle cy="372.2" r="10.5"/><text y="372.2">99.8</text><circle cy="395.9" r="10.5"/><text y="395.9">99.8</text><circle cy="419.5" r="10.5"/><text y="419.5">99.8</text><circle cy="443.2" r="10.5"/><text y="443.2">99.8</text><circle cy="466.9" r="10.5"/><text y="466.9">99.8</text><circle cy="490.5" r="10.5"/><text y="490.5">99.8</text><circle cy="774.4" r="10.5"/><text y="774.4">99.85</text><circle cy="798.1" r="10.5"/><text y="798.1">99.85</text>
</g>
<g class="p1" transform="translate(1309.9,0)">
<circle cy="253.9" r="10.5"/><text y="253.9">98.39</text><circle cy="277.6" r="10.5"/><text y="277.6">98.39</text><circle cy="301.2" r="10.5"/><text y="301.2">98.39</text><circle cy="324.9" r="10.5"/><text y="324.9">98.39</text><circle cy="348.6" r="10.5"/><text y="348.6">98.39</text><circle cy="372.2" r="10.5"/><text y="372.2">98.39</text><circle cy="395.9" r="10.5"/><text y="395.9">98.39</text><circle cy="419.5" r="10.5"/><text y="419.5">98.39</text><circle cy="443.2" r="10.5"/><text y="443.2">98.39</text><circle cy="466.9" r="10.5"/><text y="466.9">98.39</text><circle cy="490.5" r="10.5"/><text y="490.5">98.39</text><circle cy="750.8" r="10.5"/><text y="750.8">99.92</text><circle cy="774.4" r="10.5"/><text y="774.4">98.31</text><circle cy="798.1" r="10.5"/><text y="798.1">98.31</text><circle cy="869.1" r="10.5"/><text y="869.1">99.92</text><circle cy="916.4" r="10.5"/><text y="916.4">99.92</text>
</g>
<g class="p1" transform="translate(1339,0)">
<circle cy="230.3" r="10.5"/><text y="230.3">96.35</text><circle cy="253.9" r="10.5"/><text y="253.9">96.35</text><circle cy="277.6" r="10.5"/><text y="277.6">96.35</text><circle cy="301.2" r="10.5"/><text y="301.2">96.35</text><circle cy="324.9" r="10.5"/><text y="324.9">96.35</text><circle cy="348.6" r="10.5"/><text y="348.6">96.35</text><circle cy="372.2" r="10.5"/><text y="372.2">96.35</text><circle cy="395.9" r="10.5"/><text y="395.9">96.35</text><circle cy="419.5" r="10.5"/><text y="419.5">96.35</text><circle cy="443.2" r="10.5"/><text y="443.2">96.35</text><circle cy="466.9" r="10.5"/><text y="466.9">96.35</text><circle cy="490.5" r="10.5"/><text y="490.5">96.35</text><circle cy="750.8" r="10.5"/><text y="750.8">99.89</text><circle cy="774.4" r="10.5"/><text y="774.4">96.35</text><circle cy="798.1" r="10.5"/><text y="798.1">96.35</text><circle cy="869.1" r="10.5"/><text y="869.1">100</text><circle cy="892.7" r="10.5"/><text y="892.7">100</text><circle cy="916.4" r="10.5"/><text y="916.4">100</text>
</g>
<g class="p1" transform="translate(1368.2,0)">
<circle cy="230.3" r="10.5"/><text y="230.3">91.89</text><circle cy="253.9" r="10.5"/><text y="253.9">91.89</text><circle cy="277.6" r="10.5"/><text y="277.6">91.89</text><circle cy="301.2" r="10.5"/><text y="301.2">91.89</text><circle cy="324.9" r="10.5"/><text y="324.9">91.89</text><circle cy="348.6" r="10.5"/><text y="348.6">91.89</text><circle cy="372.2" r="10.5"/><text y="372.2">91.89</text><circle cy="395.9" r="10.5"/><text y="395.9">91.89</text><circle cy="419.5" r="10.5"/><text y="419.5">91.89</text><circle cy="443.2" r="10.5"/><text y="443.2">91.89</text><circle cy="466.9" r="10.5"/><text y="466.9">91.89</text><circle cy="490.5" r="10.5"/><text y="490.5">91.89</text><circle cy="750.8" r="10.5"/><text y="750.8">93.85</text><circle cy="774.4" r="10.5"/><text y="774.4">91.89</text><circle cy="798.1" r="10.5"/><text y="798.1">91.89</text><circle cy="869.1" r="10.5"/><text y="869.1">93.85</text><circle cy="892.7" r="10.5"/><text y="892.7">93.85</text><circle cy="916.4" r="10.5"/><text y="916.4">93.85</text>
</g>
<g class="p1" transform="translate(1397.4,0)">
<circle cy="230.3" r="10.5"/><text y="230.3">100</text><circle cy="253.9" r="10.5"/><text y="253.9">100</text><circle cy="277.6" r="10.5"/><text y="277.6">100</text><circle cy="301.2" r="10.5"/><text y="301.2">100</text><circle cy="324.9" r="10.5"/><text y="324.9">100</text><circle cy="348.6" r="10.5"/><text y="348.6">100</text><circle cy="372.2" r="10.5"/><text y="372.2">100</text><circle cy="395.9" r="10.5"/><text y="395.9">100</text><circle cy="419.5" r="10.5"/><text y="419.5">100</text><circle cy="443.2" r="10.5"/><text y="443.2">100</text><circle cy="466.9" r="10.5"/><text y="466.9">100</text><circle cy="490.5" r="10.5"/><text y="490.5">100</text><circle cy="750.8" r="10.5"/><text y="750.8">90.38</text><circle cy="774.4" r="10.5"/><text y="774.4">99.88</text><circle cy="798.1" r="10.5"/><text y="798.1">99.88</text><circle cy="869.1" r="10.5"/><text y="869.1">90.38</text><circle cy="892.7" r="10.5"/><text y="892.7">90.38</text><circle cy="916.4" r="10.5"/><text y="916.4">90.38</text>
</g>
<g class="p2" transform="translate(1426.5,0)">
<text class="z" y="88.3">0</text><text class="z" y="112">0</text><text class="z" y="135.6">0</text><text class="z" y="159.3">0</text><text class="z" y="182.9">0</text><text class="z" y="206.6">0</text><circle cy="230.3" r="10.5"/><text y="230.3">99.54</text><circle cy="253.9" r="10.5"/><text y="253.9">99.54</text><circle cy="277.6" r="10.5"/><text y="277.6">99.54</text><circle cy="301.2" r="10.5"/><text y="301.2">99.54</text><circle cy="324.9" r="10.5"/><text y="324.9">99.54</text><circle cy="348.6" r="10.5"/><text y="348.6">99.54</text><circle cy="372.2" r="10.5"/><text y="372.2">99.54</text><circle cy="395.9" r="10.5"/><text y="395.9">99.54</text><circle cy="419.5" r="10.5"/><text y="419.5">99.54</text><circle cy="443.2" r="10.5"/><text y="443.2">99.54</text><circle cy="466.9" r="10.5"/><text y="466.9">99.54</text><circle cy="490.5" r="10.5"/><text y="490.5">99.54</text><text class="z" y="514.2">0</text><text class="z" y="537.8">0</text><text class="z" y="561.5">0</text><text class="z" y="585.2">0</text><text class="z" y="608.8">0</text><text class="z" y="632.5">0</text><text class="z" y="656.1">0</text><text class="z" y="679.8">0</text><text class="z" y="703.5">0</text><text class="z" y="727.1">0</text><text class="z" y="750.8">0</text><text class="z" y="774.4">0</text><text class="z" y="798.1">0</text><text class="z" y="821.8">0</text><text class="z" y="845.4">0</text><text class="z" y="869.1">0</text><text class="z" y="892.7">0</text><text class="z" y="916.4">0</text>
</g>
<g class="p2" transform="translate(1455.7,0)">
<text class="z" y="88.3">0</text><text class="z" y="112">0</text><text class="z" y="135.6">0</text><text class="z" y="159.3">0</text><text class="z" y="182.9">0</text><text class="z" y="206.6">0</text><circle cy="230.3" r="10.5"/><text y="230.3">100</text><circle cy="253.9" r="10.5"/><text y="253.9">100</text><circle cy="277.6" r="10.5"/><text y="277.6">100</text><circle cy="301.2" r="10.5"/><text y="301.2">100</text><circle cy="324.9" r="10.5"/><text y="324.9">100</text><circle cy="348.6" r="10.5"/><text y="348.6">100</text><circle cy="372.2" r="10.5"/><text y="372.2">100</text><circle cy="395.9" r="10.5"/><text y="395.9">100</text><circle cy="419.5" r="10.5"/><text y="419.5">100</text><circle cy="443.2" r="10.5"/><text y="443.2">100</text><circle cy="466.9" r="10.5"/><text y="466.9">100</text><circle cy="490.5" r="10.5"/><text y="490.5">100</text><text class="z" y="514.2">0</text><text class="z" y="537.8">0</text><text class="z" y="561.5">0</text><text class="z" y="585.2">0</text><text class="z" y="608.8">0</text><text class="z" y="632.5">0</text><text class="z" y="656.1">0</text><text class="z" y="679.8">0</text><text class="z" y="703.5">0</text><text class="z" y="727.1">0</text><text class="z" y="750.8">0</text><text class="z" y="774.4">0</text><text class="z" y="798.1">0</text><text class="z" y="821.8">0</text><text class="z" y="845.4">0</text><text class="z" y="869.1">0</text><text class="z" y="892.7">0</text><text class="z" y="916.4">0</text>
</g>
<g class="p2" transform="translate(1484.9,0)">
<text class="z" y="88.3">0</text><text class="z" y="112">0</text><text class="z" y="135.6">0</text><text class="z" y="159.3">0</text><text class="z" y="182.9">0</text><text class="z" y="206.6">0</text><circle cy="230.3" r="10.5"/><text y="230.3">100</text><circle cy="253.9" r="10.5"/><text y="253.9">100</text><circle cy="277.6" r="10.5"/><text y="277.6">100</text><circle cy="301.2" r="10.5"/><text y="301.2">100</text><circle cy="324.9" r="10.5"/><text y="324.9">100</text><circle cy="348.6" r="10.5"/><text y="348.6">100</text><circle cy="372.2" r="10.5"/><text y="372.2">100</text><circle cy="395.9" r="10.5"/><text y="395.9">100</text><circle cy="419.5" r="10.5"/><text y="419.5">100</text><circle cy="443.2" r="10.5"/><text y="443.2">100</text><circle cy="466.9" r="10.5"/><text y="466.9">100</text><circle cy="490.5" r="10.5"/><text y="490.5">100</text><text class="z" y="514.2">0</text><text class="z" y="537.8">0</text><text class="z" y="561.5">0</text><text class="z" y="585.2">0</text><text class="z" y="608.8">0</text><text class="z" y="632.5">0</text><text class="z" y="656.1">0</text><text class="z" y="679.8">0</text><circle cy="703.5" r="10.5"/><text y="703.5">97.5</text><text class="z" y="727.1">0</text><text class="z" y="750.8">0</text><text class="z" y="774.4">0</text><text class="z" y="798.1">0</text><text class="z" y="821.8">0</text><text class="z" y="845.4">0</text><text class="z" y="869.1">0</text><text class="z" y="892.7">0</text><text class="z" y="916.4">0</text>
</g>
<g class="p2" transform="translate(1514,0)">
<text class="z" y="88.3">0</text><text class="z" y="112">0</text><text class="z" y="135.6">0</text><text class="z" y="159.3">0</text><text class="z" y="182.9">0</text><text class="z" y="206.6">0</text><circle cy="230.3" r="10.5"/><text y="230.3">100</text><circle cy="253.9" r="10.5"/><text y="253.9">100</text><circle cy="277.6" r="10.5"/><text y="277.6">100</text><circle cy="301.2" r="10.5"/><text y="301.2">100</text><circle cy="324.9" r="10.5"/><text y="324.9">100</text><circle cy="348.6" r="10.5"/><text y="348.6">100</text><circle cy="372.2" r="10.5"/><text y="372.2">100</text><circle cy="395.9" r="10.5"/><text y="395.9">100</text><circle cy="419.5" r="10.5"/><text y="419.5">100</text><circle cy="443.2" r="10.5"/><text y="443.2">100</text><circle cy="466.9" r="10.5"/><text y="466.9">100</text><circle cy="490.5" r="10.5"/><text y="490.5">100</text><text class="z" y="514.2">0</text><text class="z" y="537.8">0</text><text class="z" y="561.5">0</text><text class="z" y="585.2">0</text><text class="z" y="608.8">0</text><text class="z" y="632.5">0</text><text class="z" y="656.1">0</text><text class="z" y="679.8">0</text><circle cy="703.5" r="10.5"/><text y="703.5">93.43</text><text class="z" y="727.1">0</text><text class="z" y="750.8">0</text><text class="z" y="774.4">0</text><text class="z" y="798.1">0</text><text class="z" y="821.8">0</text><text class="z" y="845.4">0</text><text class="z" y="869.1">0</text><text class="z" y="892.7">0</text><text class="z" y="916.4">0</text>
</g>
<g class="p2" transform="translate(1543.2,0)">
<text class="z" y="88.3">0</text><text class="z" y="112">0</text><text class="z" y="135.6">0</text><text class="z" y="159.3">0</text><text class="z" y="182.9">0</text><text class="z" y="206.6">0</text><circle cy="230.3" r="10.5"/><text y="230.3">100</text><circle cy="253.9" r="10.5"/><text y="253.9">100</text><circle cy="277.6" r="10.5"/><text y="277.6">100</text><circle cy="301.2" r="10.5"/><text y="301.2">99.82</text><circle cy="324.9" r="10.5"/><text y="324.9">100</text><circle cy="348.6" r="10.5"/><text y="348.6">100</text><circle cy="372.2" r="10.5"/><text y="372.2">100</text><circle cy="395.9" r="10.5"/><text y="395.9">100</text><circle cy="419.5" r="10.5"/><text y="419.5">100</text><circle cy="443.2" r="10.5"/><text y="443.2">100</text><circle cy="466.9" r="10.5"/><text y="466.9">100</text><circle cy="490.5" r="10.5"/><text y="490.5">100</text><text class="z" y="514.2">0</text><text class="z" y="537.8">0</text><text class="z" y="561.5">0</text><text class="z" y="585.2">0</text><text class="z" y="608.8">0</text><text class="z" y="632.5">0</text><text class="z" y="656.1">0</text><text class="z" y="679.8">0</text><circle cy="703.5" r="10.5"/><text y="703.5">96.38</text><text class="z" y="727.1">0</text><text class="z" y="750.8">0</text><text class="z" y="774.4">0</text><text class="z" y="798.1">0</text><text class="z" y="821.8">0</text><text class="z" y="845.4">0</text><text class="z" y="869.1">0</text><text class="z" y="892.7">0</text><text class="z" y="916.4">0</text>
</g>
</g>

<g id="legend-serotypes">
<rect x="1562.5" y="48.5" width="266" height="661" fill="#fff" stroke="#e8e8e8" stroke-width="1.2"/>
<text x="1571" y="74" class="ttl">Serotypes (branch color)</text>
<line x1="1567" y1="86" x2="1823" y2="86" stroke="#777" stroke-width="1.3"/>
<rect class="sw" x="1571" y="97.8" width="33" height="30" fill="#0b5394"/><text class="lg" x="1618" y="120.8">19A</text>
<rect class="sw" x="1571" y="145.2" width="33" height="30" fill="#6fa8dc"/><text class="lg" x="1618" y="168.2">19F</text>
<rect class="sw" x="1571" y="192.6" width="33" height="30" fill="#38761d"/><text class="lg" x="1618" y="215.6">23A</text>
<rect class="sw" x="1571" y="240" width="33" height="30" fill="#93c47d"/><text class="lg" x="1618" y="263">23F</text>
<rect class="sw" x="1571" y="287.4" width="33" height="30" fill="#bf9000"/><text class="lg" x="1618" y="310.4">6A</text>
<rect class="sw" x="1571" y="334.8" width="33" height="30" fill="#f1c232"/><text class="lg" x="1618" y="357.8">6B</text>
<rect class="sw" x="1571" y="382.2" width="33" height="30" fill="#f6b26b"/><text class="lg" x="1618" y="405.2">6D</text>
<rect class="sw" x="1571" y="429.6" width="33" height="30" fill="#f9cb9c"/><text class="lg" x="1618" y="452.6">6E</text>
<rect class="sw" x="1571" y="477" width="33" height="30" fill="#f4cccc"/><text class="lg" x="1618" y="500">7A</text>
<rect class="sw" x="1571" y="524.4" width="33" height="30" fill="#674ea7"/><text class="lg" x="1618" y="547.4">15A</text>
<rect class="sw" x="1571" y="571.8" width="33" height="30" fill="#8e7cc3"/><text class="lg" x="1618" y="594.8">15C</text>
<rect class="sw" x="1571" y="619.2" width="33" height="30" fill="#a64d79"/><text class="lg" x="1618" y="642.2">14</text>
<rect class="sw" x="1571" y="666.6" width="33" height="30" fill="#999999"/><text class="lg" x="1618" y="689.6">34</text>
</g>

<g id="legend-strains">
<rect x="1562.5" y="718" width="332.5" height="137" fill="#fff" stroke="#e8e8e8" stroke-width="1.2"/>
<text x="1571" y="745" class="ttl">Strains text color</text>
<line x1="1567" y1="757" x2="1891" y2="757" stroke="#777" stroke-width="1.3"/>
<rect class="sw" x="1571" y="768.6" width="33" height="30" fill="#cc0000"/><text class="lg" x="1618" y="791.6">Invasive isolates (SPI)</text>
<rect class="sw" x="1571" y="816" width="33" height="30" fill="#0b5394"/><text class="lg" x="1618" y="839">Non-invasive isolates (SPN)</text>
</g>

<g id="legend-genes">
<rect x="9.7" y="934" width="1540.5" height="97" fill="#fff" stroke="#e8e8e8" stroke-width="1.2"/>
<text x="14.6" y="962" class="ttl">Virulence related gene carrying (identity%)</text>
<line x1="14.6" y1="974" x2="1546" y2="974" stroke="#777" stroke-width="1.3"/>
<circle cx="31.5" cy="1002" r="15.5" fill="#c8177f" stroke="#555"/><text class="lg" x="66.7" y="1010">Exotoxin</text>
<circle cx="212.3" cy="1002" r="15.5" fill="#cf0a0a" stroke="#555"/><text class="lg" x="247.5" y="1010">Exoenzyme</text>
<circle cx="418.5" cy="1002" r="15.5" fill="#6a4ca8" stroke="#555"/><text class="lg" x="453.7" y="1010">Immune modulation</text>
<circle cx="707.2" cy="1002" r="15.5" fill="#b4a6d8" stroke="#555"/><text class="lg" x="741" y="1010">Nutritional/Metabolic factor</text>
<circle cx="1037" cy="1002" r="15.5" fill="#e8922f" stroke="#555"/><text class="lg" x="1070" y="1010">Adherence</text>
<circle cx="1267.6" cy="1002" r="15.5" fill="#0d4f92" stroke="#555"/><text class="lg" x="1301.5" y="1010">Pilus-1</text>
<circle cx="1429" cy="1002" r="15.5" fill="#6fa8dc" stroke="#555"/><text class="lg" x="1463" y="1010">Pilus-2</text>
</g>
</svg>
